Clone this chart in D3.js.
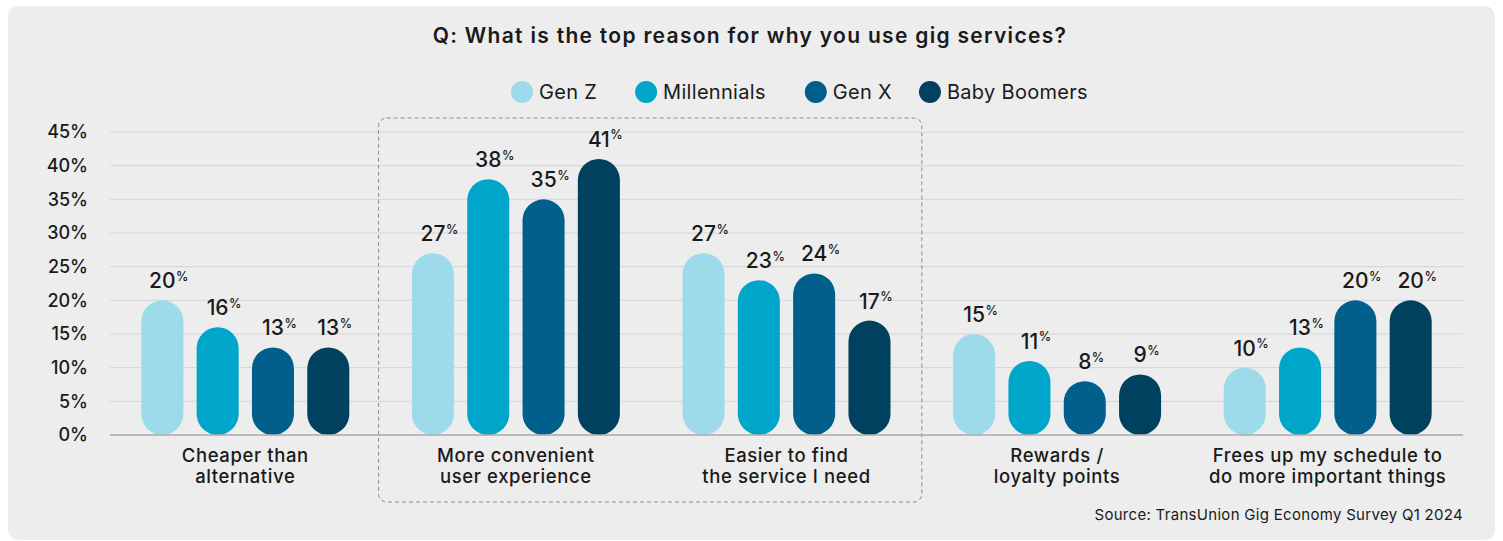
<!DOCTYPE html>
<html>
<head>
<meta charset="utf-8">
<script src="https://cdn.jsdelivr.net/npm/d3@7/dist/d3.min.js"></script>
<style>
  html, body { margin: 0; padding: 0; background: #ffffff; }
  svg { display: block; font-family: "Inter", "Noto Sans", sans-serif; }
</style>
</head>
<body>
<div id="chart"></div>
<script>
// Data
const categories = [
  ['Cheaper than', 'alternative'],
  ['More convenient', 'user experience'],
  ['Easier to find', 'the service I need'],
  ['Rewards /', 'loyalty points'],
  ['Frees up my schedule to', 'do more important things']
];
const generations = ['Gen Z', 'Millennials', 'Gen X', 'Baby Boomers'];
const genZ = [20, 27, 27, 15, 10];
const millennials = [16, 38, 23, 11, 13];
const genX = [13, 35, 24, 8, 20];
const boomers = [13, 41, 17, 9, 20];
const yTicks = [0, 5, 10, 15, 20, 25, 30, 35, 40, 45];
const highlighted = [1, 2]; // categories inside the dashed box

const series = [genZ, millennials, genX, boomers];
const colors = ['#9ddbeb', '#00a6c9', '#005f8b', '#00415f'];

const width = 1503, height = 541;
const plot = { left: 110, right: 1463, top: 132, bottom: 435 };
const ink = '#1a1a1a';

const svg = d3.select('#chart').append('svg')
  .attr('width', width)
  .attr('height', height);

// card background
svg.append('rect')
  .attr('x', 8).attr('y', 6)
  .attr('width', 1487).attr('height', 534)
  .attr('rx', 10)
  .attr('fill', '#ededed');

const x0 = d3.scaleBand()
  .domain(d3.range(categories.length))
  .range([plot.left, plot.right])
  .padding(0);

const x1 = d3.scaleBand()
  .domain(d3.range(generations.length))
  .range([0, x0.bandwidth()])
  .paddingInner(0.24)
  .paddingOuter(0.566);

const y = d3.scaleLinear()
  .domain([0, 45])
  .range([plot.bottom, plot.top]);

// title
svg.append('text')
  .attr('x', 750).attr('y', 43)
  .attr('text-anchor', 'middle')
  .attr('font-size', 21)
  .attr('font-weight', 600)
  .attr('letter-spacing', 1.3)
  .attr('fill', ink)
  .text('Q: What is the top reason for why you use gig services?');

// legend
const legend = svg.append('g');
const legendGaps = [38, 39, 27];
let lx = 511;
generations.forEach((g, i) => {
  legend.append('circle')
    .attr('cx', lx + 11).attr('cy', 92)
    .attr('r', 11)
    .attr('fill', colors[i]);
  const t = legend.append('text')
    .attr('x', lx + 28).attr('y', 99)
    .attr('font-size', 20)
    .attr('letter-spacing', 0.3)
    .attr('fill', ink)
    .text(g);
  lx += 28 + t.node().getComputedTextLength() + (legendGaps[i] || 0);
});

// grid lines
svg.append('g')
  .selectAll('line')
  .data(yTicks.filter(d => d > 0))
  .join('line')
  .attr('x1', plot.left).attr('x2', plot.right)
  .attr('y1', d => y(d)).attr('y2', d => y(d))
  .attr('stroke', '#d5d5d5')
  .attr('stroke-width', 1);

// y axis labels
const yAxis = svg.append('g')
  .attr('transform', `translate(${plot.left},0)`)
  .call(d3.axisLeft(y).tickValues(yTicks).tickSize(0).tickPadding(22).tickFormat(d => d + '%'));
yAxis.select('.domain').remove();
yAxis.selectAll('text')
  .attr('font-family', 'Inter, "Noto Sans", sans-serif')
  .attr('font-size', 18)
  .attr('font-weight', 500)
  .attr('fill', ink);

// dashed highlight box
const boxX = x0(highlighted[0]) - 2;
const boxW = x0(highlighted[1]) + x0.bandwidth() - boxX;
svg.append('rect')
  .attr('x', boxX).attr('y', 118)
  .attr('width', boxW).attr('height', 384)
  .attr('rx', 8)
  .attr('fill', 'none')
  .attr('stroke', '#8a8a8a')
  .attr('stroke-width', 1)
  .attr('stroke-dasharray', '4,3');

// bars
const groups = svg.append('g')
  .selectAll('g')
  .data(categories.map((c, i) => i))
  .join('g')
  .attr('transform', i => `translate(${x0(i)},0)`);

groups.each(function(ci) {
  const g = d3.select(this);
  series.forEach((s, si) => {
    const v = s[ci];
    const bx = x1(si);
    const bw = x1.bandwidth();
    g.append('rect')
      .attr('x', bx)
      .attr('y', y(v))
      .attr('width', bw)
      .attr('height', y(0) - y(v))
      .attr('rx', bw / 2)
      .attr('fill', colors[si]);

    const cx = bx + bw / 2;
    const num = g.append('text')
      .attr('x', cx)
      .attr('y', y(v) - 12)
      .attr('text-anchor', 'middle')
      .attr('font-size', 21)
      .attr('font-weight', 500)
      .attr('fill', ink)
      .text(v);
    const w = num.node().getComputedTextLength();
    g.append('text')
      .attr('x', cx + w / 2 + 0.5)
      .attr('y', y(v) - 19.5)
      .attr('font-size', 12.5)
      .attr('font-weight', 500)
      .attr('fill', ink)
      .text('%');
  });

  // category label
  const lab = g.append('text')
    .attr('text-anchor', 'middle')
    .attr('font-size', 18.5)
    .attr('font-weight', 500)
    .attr('letter-spacing', 0.6)
    .attr('fill', ink);
  categories[ci].forEach((line, li) => {
    lab.append('tspan')
      .attr('x', x0.bandwidth() / 2)
      .attr('y', 462 + li * 21)
      .text(line);
  });
});

// baseline
svg.append('line')
  .attr('x1', plot.left).attr('x2', plot.right)
  .attr('y1', y(0)).attr('y2', y(0))
  .attr('stroke', '#a8a8a8')
  .attr('stroke-width', 1.5);

// source note
svg.append('text')
  .attr('x', plot.right).attr('y', 520)
  .attr('text-anchor', 'end')
  .attr('font-size', 15)
  .attr('letter-spacing', 0.3)
  .attr('fill', ink)
  .text('Source: TransUnion Gig Economy Survey Q1 2024');
</script>
</body>
</html>
